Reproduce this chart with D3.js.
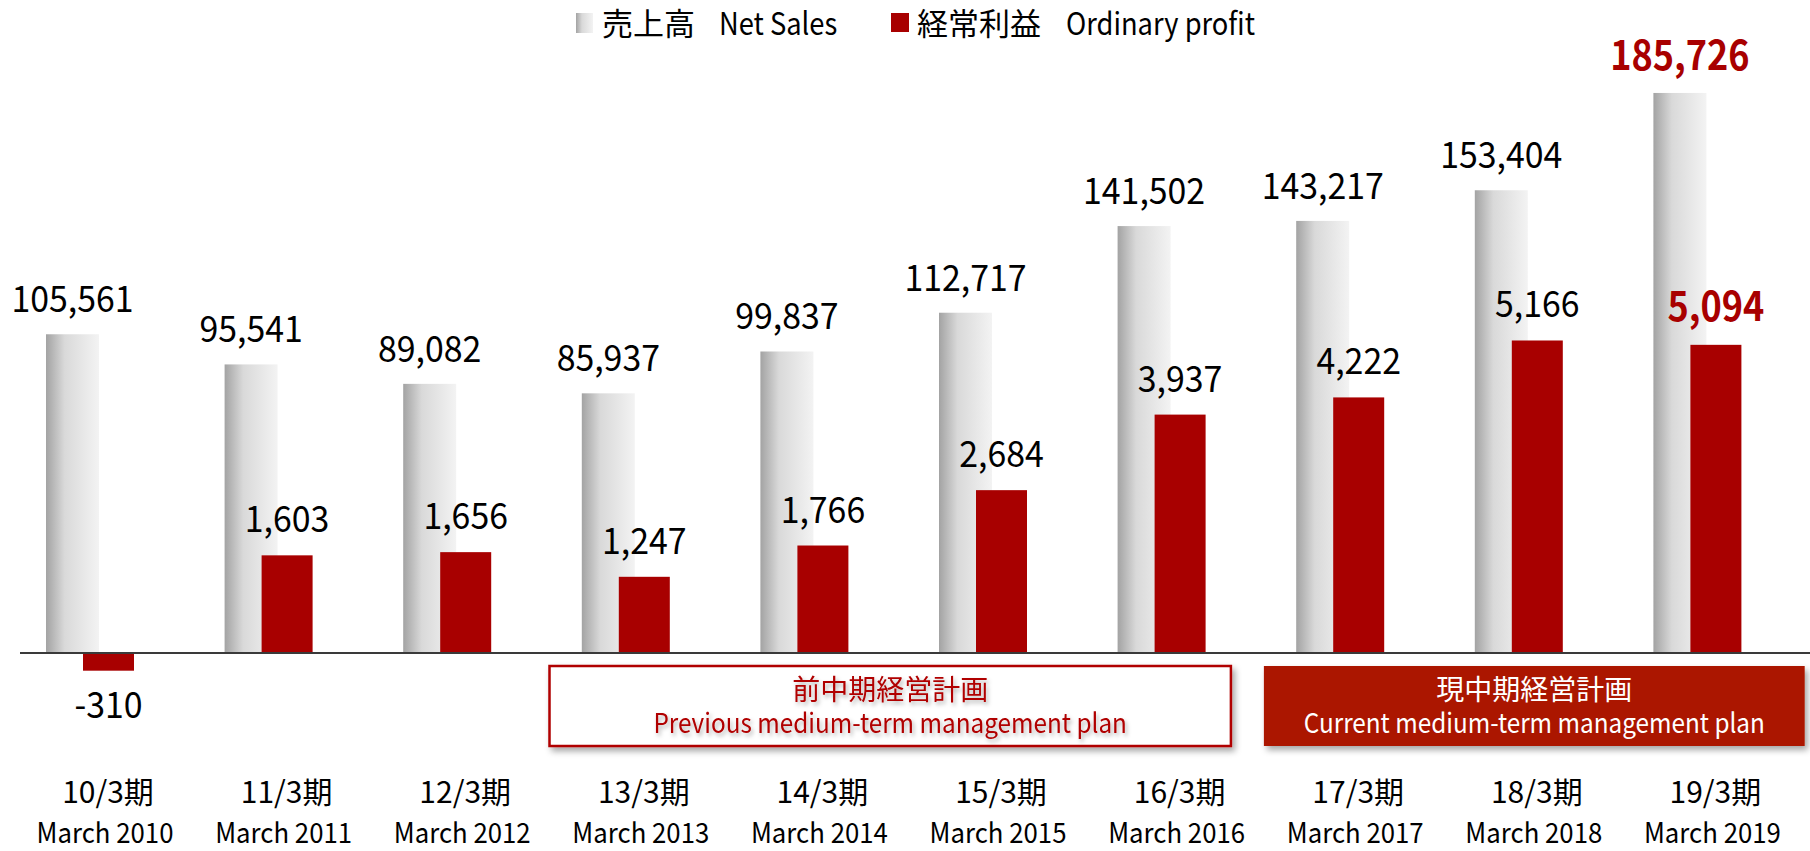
<!DOCTYPE html>
<html>
<head>
<meta charset="utf-8">
<script src="https://cdn.jsdelivr.net/npm/d3@7"></script>
<style>
  body { margin: 0; background: #fff; }
  text { font-family: "Noto Sans CJK JP", "Noto Sans", sans-serif; }
</style>
</head>
<body>
<svg id="chart"></svg>
<script>
// data
let periods = ["10/3期", "11/3期", "12/3期", "13/3期", "14/3期", "15/3期", "16/3期", "17/3期", "18/3期", "19/3期"];
let periodsEn = ["March 2010", "March 2011", "March 2012", "March 2013", "March 2014", "March 2015", "March 2016", "March 2017", "March 2018", "March 2019"];
let netSales = [105561, 95541, 89082, 85937, 99837, 112717, 141502, 143217, 153404, 185726];
let ordinaryProfit = [-310, 1603, 1656, 1247, 1766, 2684, 3937, 4222, 5166, 5094];
let legendJa = ["売上高", "経常利益"];
let legendEn = ["Net Sales", "Ordinary profit"];
let plans = [
  { ja: "前中期経営計画", en: "Previous medium-term management plan", from: 3, to: 6, current: false },
  { ja: "現中期経営計画", en: "Current medium-term management plan", from: 7, to: 9, current: true },
];

let width = 1810,
  height = 851;
let red = "#a80000",
  boxRed = "#ab1800";

let svg = d3.select("#chart").attr("width", width).attr("height", height);

// the reference font is narrower than ours, squeeze latin text a bit
function condense(sel, k) {
  sel.each(function () {
    let l = this.getComputedTextLength();
    d3.select(this)
      .attr("textLength", l * k)
      .attr("lengthAdjust", "spacingAndGlyphs");
  });
}

let defs = svg.append("defs");
let grad = defs
  .append("linearGradient")
  .attr("id", "grayBar")
  .attr("x1", "0%")
  .attr("x2", "100%")
  .attr("y1", "0%")
  .attr("y2", "0%");
grad.append("stop").attr("offset", "0%").attr("stop-color", "#a3a3a3");
grad.append("stop").attr("offset", "35%").attr("stop-color", "#d9d9d9");
grad.append("stop").attr("offset", "100%").attr("stop-color", "#f3f3f3");

let shadow = defs
  .append("filter")
  .attr("id", "boxShadow")
  .attr("x", "-10%")
  .attr("y", "-20%")
  .attr("width", "120%")
  .attr("height", "150%");
shadow
  .append("feDropShadow")
  .attr("dx", 3)
  .attr("dy", 4)
  .attr("stdDeviation", 3)
  .attr("flood-color", "#000")
  .attr("flood-opacity", 0.35);

let textShadow = defs.append("filter").attr("id", "textShadow");
textShadow
  .append("feDropShadow")
  .attr("dx", 2)
  .attr("dy", 3)
  .attr("stdDeviation", 2)
  .attr("flood-color", "#000")
  .attr("flood-opacity", 0.3);

// scales
var x = d3.scaleBand().domain(periods).range([16.7, 1802.7]).padding(0);
var bw = x.bandwidth();
var cx = (d) => x(d) + bw / 2;
var ySales = d3.scaleLinear().domain([0, 200000]).range([652, 50]);
var yProfit = d3.scaleLinear().domain([0, 10000]).range([652, 49]);

let fmt = d3
  .formatLocale({ decimal: ".", thousands: ",", grouping: [3], currency: ["", ""], minus: "-" })
  .format(",");
let data = periods.map((p, i) => ({
  p: p,
  en: periodsEn[i],
  sales: netSales[i],
  profit: ordinaryProfit[i],
  last: i === periods.length - 1,
}));

// net sales bars
svg
  .selectAll(".sales")
  .data(data)
  .enter()
  .append("rect")
  .attr("class", "sales")
  .attr("x", (d) => cx(d.p) - 60)
  .attr("width", 53)
  .attr("y", (d) => ySales(d.sales))
  .attr("height", (d) => ySales(0) - ySales(d.sales))
  .attr("fill", "url(#grayBar)");

// ordinary profit bars
svg
  .selectAll(".profit")
  .data(data)
  .enter()
  .append("rect")
  .attr("class", "profit")
  .attr("x", (d) => cx(d.p) - 23)
  .attr("width", 51)
  .attr("y", (d) => Math.min(yProfit(d.profit), yProfit(0)))
  .attr("height", (d) => Math.abs(yProfit(0) - yProfit(d.profit)))
  .attr("fill", red);

// baseline
svg
  .append("line")
  .attr("x1", 20)
  .attr("x2", width)
  .attr("y1", ySales(0) + 1)
  .attr("y2", ySales(0) + 1)
  .attr("stroke", "#3a3a3a")
  .attr("stroke-width", 2);

// value labels
svg
  .selectAll(".salesLabel")
  .data(data)
  .enter()
  .append("text")
  .attr("class", "salesLabel")
  .attr("x", (d) => cx(d.p) - 33.5)
  .attr("y", (d) => ySales(d.sales) - (d.last ? 23 : 22))
  .attr("text-anchor", "middle")
  .attr("font-size", (d) => (d.last ? "41px" : "36px"))
  .attr("font-weight", (d) => (d.last ? "bold" : "normal"))
  .attr("fill", (d) => (d.last ? red : "#000"))
  .text((d) => fmt(d.sales));

svg
  .selectAll(".profitLabel")
  .data(data)
  .enter()
  .append("text")
  .attr("class", "profitLabel")
  .attr("x", (d) => cx(d.p) + 2.5)
  .attr("y", (d) =>
    d.profit < 0 ? yProfit(d.profit) + 47 : yProfit(d.profit) - (d.last ? 24 : 23)
  )
  .attr("text-anchor", "middle")
  .attr("font-size", (d) => (d.last ? "41px" : "36px"))
  .attr("font-weight", (d) => (d.last ? "bold" : "normal"))
  .attr("fill", (d) => (d.last ? red : "#000"))
  .text((d) => fmt(d.profit));

condense(svg.selectAll(".salesLabel, .profitLabel").filter((d) => !d.last), 0.94);
condense(svg.selectAll(".salesLabel, .profitLabel").filter((d) => d.last), 0.88);

// category labels
svg
  .selectAll(".catJa")
  .data(data)
  .enter()
  .append("text")
  .attr("class", "catJa")
  .attr("x", (d) => cx(d.p) + 2)
  .attr("y", 803)
  .attr("text-anchor", "middle")
  .attr("font-size", "30px")
  .text((d) => d.p);
svg
  .selectAll(".catEn")
  .data(data)
  .enter()
  .append("text")
  .attr("class", "catEn")
  .attr("x", (d) => cx(d.p) - 1)
  .attr("y", 843)
  .attr("text-anchor", "middle")
  .attr("font-size", "28px")
  .text((d) => d.en)
  .call(condense, 0.92);

// medium-term plan boxes
plans.forEach((pl) => {
  let x0 = x(periods[pl.from]) - 3;
  let x1 = pl.current ? x(periods[pl.to]) + bw + 2 : x(periods[pl.to]) + bw - 36;
  let mid = (x0 + x1) / 2;
  svg
    .append("rect")
    .attr("x", x0)
    .attr("y", 666)
    .attr("width", x1 - x0)
    .attr("height", 80)
    .attr("fill", pl.current ? boxRed : "#fff")
    .attr("stroke", pl.current ? "none" : "#b00000")
    .attr("stroke-width", 2.5)
    .attr("filter", "url(#boxShadow)");
  let tg = svg
    .append("g")
    .attr("fill", pl.current ? "#fff" : "#b00000")
    .attr("filter", pl.current ? null : "url(#textShadow)");
  tg.append("text")
    .attr("x", mid)
    .attr("y", 700)
    .attr("text-anchor", "middle")
    .attr("font-size", "28px")
    .text(pl.ja);
  tg.append("text")
    .attr("x", mid)
    .attr("y", 733)
    .attr("text-anchor", "middle")
    .attr("font-size", "27px")
    .text(pl.en)
    .call(condense, 0.9);
});

// legend
let legend = svg.append("g");
legend
  .append("rect")
  .attr("x", 576)
  .attr("y", 13)
  .attr("width", 17)
  .attr("height", 20)
  .attr("fill", "url(#grayBar)");
legend
  .append("rect")
  .attr("x", 891)
  .attr("y", 13)
  .attr("width", 18)
  .attr("height", 19)
  .attr("fill", red);
[
  [602, legendJa[0], false],
  [719, legendEn[0], true],
  [917, legendJa[1], false],
  [1066, legendEn[1], true],
].forEach((t) => {
  let lt = legend
    .append("text")
    .attr("x", t[0])
    .attr("y", 35)
    .attr("font-size", "31px")
    .text(t[1]);
  if (t[2]) condense(lt, 0.88);
});
</script>
</body>
</html>
